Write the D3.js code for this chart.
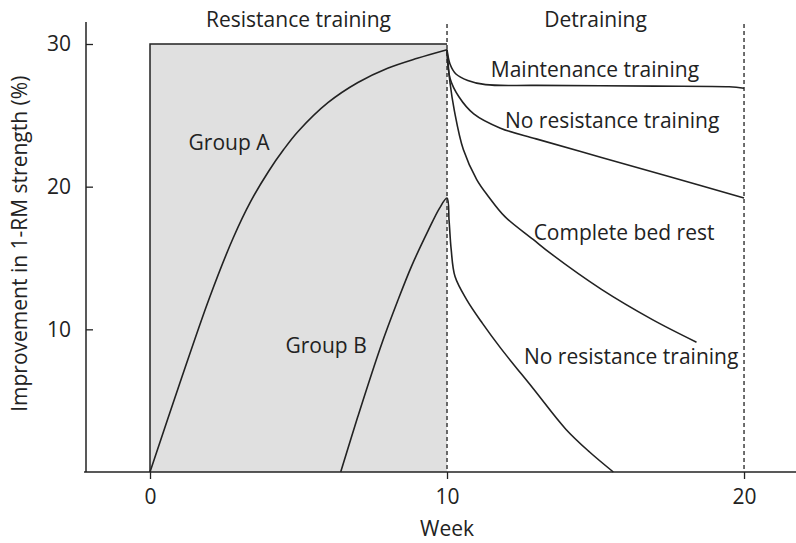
<!DOCTYPE html>
<html>
<head>
<meta charset="utf-8">
<script src="https://cdn.jsdelivr.net/npm/d3@7"></script>
<style>
  html, body { margin: 0; padding: 0; background: #fff; }
  svg { display: block; font-family: "Open Sans", "Noto Sans", sans-serif; }
</style>
</head>
<body>
<svg id="chart" width="796" height="543"></svg>
<script>
// ---- data (weeks, % improvement in 1-RM strength) ----
const groupA = [[0,0],[1,6.2],[2,12.2],[2.8,16.4],[3.4,19.0],[4,21.1],[4.5,22.6],[5,23.9],[6,25.9],[7,27.3],[8,28.3],[9,29.0],[10,29.6]];
const groupB = [[6.42,0],[7,3.9],[7.77,8.8],[8.34,12.0],[8.8,14.4],[9.36,16.9],[9.75,18.5],[10,19.2]];
const maintenanceA = [[10,29.6],[10.1,28.6],[10.3,27.9],[10.7,27.45],[11.3,27.15],[13,27.1],[17,27.05],[19.5,27.0],[20,26.9]];
const noTrainingA = [[10,29.6],[10.1,27.6],[10.4,26.3],[10.9,25.1],[11.8,24.1],[13,23.35],[15.2,22.05],[17.5,20.7],[20,19.2]];
const bedRestA = [[10,29.6],[10.1,27.3],[10.25,25.3],[10.55,22.6],[11,20.5],[11.4,19.3],[11.95,17.9],[12.9,16.3],[13.5,15.3],[15.2,12.8],[16.9,10.7],[18.4,9.1]];
const noTrainingB = [[10,19.2],[10.07,17.6],[10.14,15.6],[10.27,13.7],[10.67,12.05],[11.2,10.4],[11.8,8.7],[12.9,5.85],[14.0,3.0],[14.8,1.4],[15.6,0]];

const xTicks = [0, 10, 20];
const yTicks = [10, 20, 30];
const phases = [["Resistance training", 0, 10], ["Detraining", 10, 20]];
const trainingWindow = [0, 10, 30];   // start week, end week, top value of shaded area
const dashedWeeks = [10, 20];
const curveLabels = [
  ["Group A", 2.66, 22.57],
  ["Group B", 5.93, 8.34],
  ["Maintenance training", 14.98, 27.68],
  ["No resistance training", 15.56, 24.1],
  ["Complete bed rest", 15.96, 16.26],
  ["No resistance training", 16.2, 7.57]
];
const xTitle = "Week";
const yTitle = "Improvement in 1-RM strength (%)";

// ---- drawing ----
const svg = d3.select("#chart");
const ink = "#222";
const fs = 21;

const x = d3.scaleLinear().domain([-2.155, 21.75]).range([86, 796]);
const y = d3.scaleLinear().domain([0, 30]).range([472, 44]);

// shaded training window
svg.append("rect")
  .attr("x", x(trainingWindow[0])).attr("y", y(trainingWindow[2]))
  .attr("width", x(trainingWindow[1]) - x(trainingWindow[0]))
  .attr("height", y(0) - y(trainingWindow[2]))
  .attr("fill", "#e0e0e0");
svg.append("path")
  .attr("d", `M${x(trainingWindow[0])},${y(0)}V${y(trainingWindow[2])}H${x(trainingWindow[1])}`)
  .attr("fill", "none").attr("stroke", ink).attr("stroke-width", 1.5);

// dashed week markers
svg.selectAll("line.dash").data(dashedWeeks).join("line")
  .attr("class", "dash")
  .attr("x1", d => x(d)).attr("x2", d => x(d))
  .attr("y1", y(31.4)).attr("y2", y(0))
  .attr("stroke", ink).attr("stroke-width", 1.3).attr("stroke-dasharray", "4,3");

// axes
const yAxis = d3.axisLeft(y).tickValues(yTicks).tickSizeInner(-7).tickSizeOuter(0).tickPadding(15);
const gy = svg.append("g").attr("transform", `translate(${x(-2.155)},0)`).call(yAxis);
gy.select(".domain").remove();
svg.append("line").attr("x1", x(-2.155)).attr("x2", x(-2.155)).attr("y1", y(31.55)).attr("y2", y(0))
  .attr("stroke", ink).attr("stroke-width", 1.5);

const xAxis = d3.axisBottom(x).tickValues(xTicks).tickSize(7).tickSizeOuter(0).tickPadding(10);
const gx = svg.append("g").attr("transform", `translate(0,${y(0)})`).call(xAxis);
gx.select(".domain").remove();
svg.append("line").attr("x1", x(-2.22)).attr("x2", x(21.75)).attr("y1", y(0)).attr("y2", y(0))
  .attr("stroke", ink).attr("stroke-width", 1.5);

[gx, gy].forEach(g => {
  g.selectAll(".tick line").attr("stroke", ink).attr("stroke-width", 1.3);
  g.selectAll(".tick text").attr("fill", ink).style("font-size", fs + "px")
    .style("font-family", '"Open Sans", "Noto Sans", sans-serif');
});

// curves
const line = d3.line().x(d => x(d[0])).y(d => y(d[1])).curve(d3.curveCatmullRom.alpha(0.5));
// Group B rise and its detraining drop share a rounded peak, so draw them as one stroke
const paths = [groupA, groupB.concat(noTrainingB.slice(1)), maintenanceA, noTrainingA, bedRestA];
paths.forEach(s => {
  svg.append("path").datum(s).attr("d", line)
    .attr("fill", "none").attr("stroke", ink).attr("stroke-width", 1.6)
    .attr("stroke-linejoin", "round");
});

// phase labels
svg.selectAll("text.phase").data(phases).join("text")
  .attr("class", "phase")
  .attr("x", d => x((d[1] + d[2]) / 2)).attr("y", y(31.18))
  .attr("text-anchor", "middle").attr("fill", ink).style("font-size", fs + "px")
  .text(d => d[0]);

// curve labels
svg.selectAll("text.clab").data(curveLabels).join("text")
  .attr("class", "clab")
  .attr("x", d => x(d[1])).attr("y", d => y(d[2]))
  .attr("text-anchor", "middle").attr("fill", ink).style("font-size", fs + "px")
  .text(d => d[0]);

// axis titles
svg.append("text").attr("x", x(10)).attr("y", 536)
  .attr("text-anchor", "middle").attr("fill", ink).style("font-size", fs + "px").text(xTitle);
svg.append("text").attr("transform", `translate(27,${y(16)}) rotate(-90)`)
  .attr("text-anchor", "middle").attr("fill", ink).style("font-size", fs + "px").text(yTitle);
</script>
</body>
</html>
